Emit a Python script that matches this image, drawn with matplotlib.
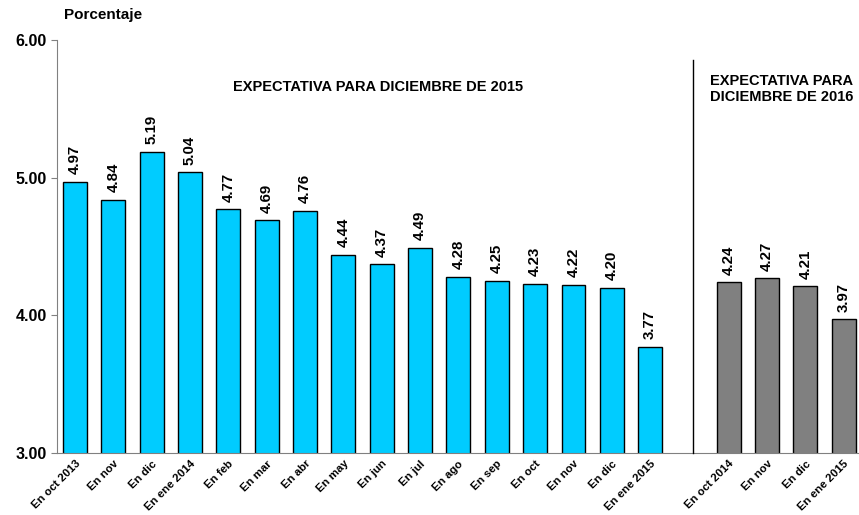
import matplotlib
matplotlib.use("Agg")
import matplotlib.pyplot as plt

plt.rcParams['font.family'] = ['Liberation Sans', 'DejaVu Sans']

labels_2015 = ["En oct 2013", "En nov", "En dic", "En ene 2014", "En feb", "En mar", "En abr",
               "En may", "En jun", "En jul", "En ago", "En sep", "En oct", "En nov", "En dic", "En ene 2015"]
values_2015 = [4.97, 4.84, 5.19, 5.04, 4.77, 4.69, 4.76, 4.44, 4.37, 4.49, 4.28, 4.25, 4.23, 4.22, 4.20, 3.77]
labels_2016 = ["En oct 2014", "En nov", "En dic", "En ene 2015"]
values_2016 = [4.24, 4.27, 4.21, 3.97]

fig = plt.figure(figsize=(8.59, 5.15), dpi=100)
ax = fig.add_axes([57/859, 62/515, 802/859, 413/515])

x1 = list(range(len(values_2015)))
x2 = [len(values_2015) + 1.05 + i for i in range(len(values_2016))]
bw = 0.62
ax.bar(x1, values_2015, width=bw, color="#00CCFF", edgecolor="black", linewidth=1.0, zorder=2)
ax.bar(x2, values_2016, width=bw, color="#808080", edgecolor="black", linewidth=1.0, zorder=2)

for x, v in zip(x1 + x2, values_2015 + values_2016):
    ax.text(x, v + 0.055, f"{v:.2f}", rotation=90, ha="center", va="bottom",
            fontsize=10.8, fontweight="bold")

ax.set_ylim(3.0, 6.0)
ax.set_xlim(-0.47, 20.45)
ax.set_yticks([3.0, 4.0, 5.0, 6.0])
ax.set_yticklabels(["3.00", "4.00", "5.00", "6.00"], fontsize=11.5, fontweight="bold")
ax.set_xticks(x1 + x2)
ax.set_xticklabels(labels_2015 + labels_2016, rotation=45, ha="right", rotation_mode="anchor",
                   fontsize=8.2, fontweight="bold")
ax.tick_params(axis="x", length=0, pad=4)
ax.tick_params(axis="y", length=4, color="#808080", direction="out")
for s in ["top", "right"]:
    ax.spines[s].set_visible(False)
for s in ["left", "bottom"]:
    ax.spines[s].set_color("#808080")

ax.plot([16.12, 16.12], [3.0, 5.855], color="black", linewidth=1.0, zorder=3, clip_on=False)

ax.text(7.9, 5.66, "EXPECTATIVA PARA DICIEMBRE DE 2015", ha="center", va="center",
        fontsize=10.5, fontweight="bold")
ax.text(16.57, 5.645, "EXPECTATIVA PARA\nDICIEMBRE DE 2016", ha="left", va="center",
        fontsize=10.5, fontweight="bold", linespacing=1.15)

fig.text(64/859, 1 - 15/515, "Porcentaje", ha="left", va="center", fontsize=11, fontweight="bold")

fig.savefig("out.png", dpi=100)
